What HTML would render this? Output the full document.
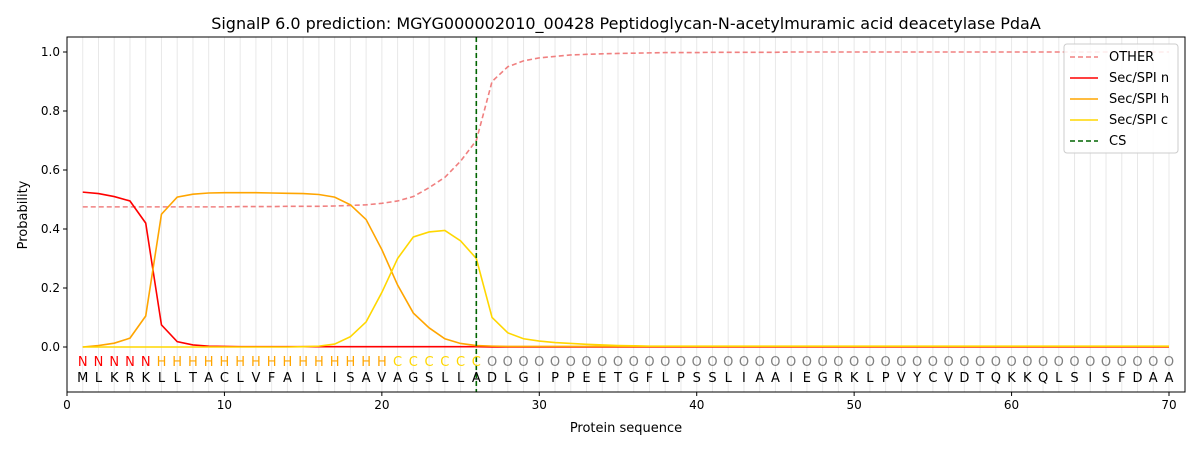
<!DOCTYPE html>
<html><head><meta charset="utf-8"><style>
body{margin:0;background:#fff;font-family:"DejaVu Sans","Liberation Sans",sans-serif;}
svg text{font-family:"DejaVu Sans","Liberation Sans",sans-serif;}
</style></head><body>
<svg id="chart" width="1200" height="450" xmlns="http://www.w3.org/2000/svg"></svg>
<script>
const seq = "MLKRKLLTACLVFAILISAVAGSLLADLGIPPEETGFLPSSLIAAIEGRKLPVYCVDTQKKQLSISFDAA".split("");
const labels = "NNNNNHHHHHHHHHHHHHHHCCCCCCOOOOOOOOOOOOOOOOOOOOOOOOOOOOOOOOOOOOOOOOOOOO".split("");
const otherVals = [0.475,0.475,0.475,0.475,0.475,0.475,0.475,0.475,0.475,0.475,0.476,0.476,0.476,0.477,0.477,0.477,0.478,0.48,0.482,0.487,0.495,0.51,0.54,0.575,0.63,0.70,0.90,0.95,0.97,0.98,0.985,0.99,0.992,0.994,0.995,0.996,0.997,0.998,0.998,0.998,0.999,0.999,0.999,0.999,0.999,1,1,1,1,1,1,1,1,1,1,1,1,1,1,1,1,1,1,1,1,1,1,1,1,1];
const nVals = [0.525,0.52,0.51,0.495,0.42,0.075,0.018,0.007,0.003,0.002,0.001,0.001,0.001,0.001,0.001,0.001,0.001,0.001,0.001,0.001,0.001,0.001,0.001,0.001,0.001,0.001,0,0,0,0,0,0,0,0,0,0,0,0,0,0,0,0,0,0,0,0,0,0,0,0,0,0,0,0,0,0,0,0,0,0,0,0,0,0,0,0,0,0,0,0];
const hVals = [0.0,0.005,0.013,0.03,0.105,0.45,0.508,0.518,0.522,0.523,0.523,0.523,0.522,0.521,0.52,0.517,0.508,0.482,0.432,0.33,0.21,0.115,0.065,0.028,0.012,0.005,0.003,0.002,0.002,0.002,0.002,0.002,0.002,0.002,0.002,0.002,0.002,0.002,0.002,0.002,0.002,0.002,0.002,0.002,0.002,0.002,0.002,0.002,0.002,0.002,0.002,0.002,0.002,0.002,0.002,0.002,0.002,0.002,0.002,0.002,0.002,0.002,0.002,0.002,0.002,0.002,0.002,0.002,0.002,0.002];
const cVals = [0,0,0,0,0,0,0,0,0,0,0,0,0,0,0.001,0.003,0.01,0.035,0.085,0.185,0.30,0.373,0.39,0.395,0.36,0.30,0.10,0.048,0.028,0.02,0.015,0.012,0.009,0.007,0.005,0.004,0.003,0.003,0.003,0.003,0.003,0.003,0.003,0.003,0.003,0.003,0.003,0.003,0.003,0.003,0.003,0.003,0.003,0.003,0.003,0.003,0.003,0.003,0.003,0.003,0.003,0.003,0.003,0.003,0.003,0.003,0.003,0.003,0.003,0.003];
const xTicks = [0,10,20,30,40,50,60,70];
const yTicks = [0.0,0.2,0.4,0.6,0.8,1.0];
const csPos = 26;

const svg = document.getElementById('chart');
const NS = "http://www.w3.org/2000/svg";
const L=67,R=1185,T=37,B=392;
const X = v => 67 + v*(1169-67)/70;
const Y = v => 347 - v*295;
function mk(tag, attrs, parent){const e=document.createElementNS(NS,tag);for(const k in attrs)e.setAttribute(k,attrs[k]);(parent||svg).appendChild(e);return e;}

// title
let t=mk('text',{x:626,y:29,'text-anchor':'middle','font-size':16,fill:'#000'});
t.textContent="SignalP 6.0 prediction: MGYG000002010_00428 Peptidoglycan-N-acetylmuramic acid deacetylase PdaA";



// vertical grid lines per residue
seq.forEach((s,i)=>{
  const g=mk('line',{x1:X(i+1),x2:X(i+1),y1:T,y2:B,stroke:'#e8e8e8','stroke-width':1});
  
  
});

// series
function series(vals,color,dash,name){
  const p=mk('polyline',{points:vals.map((v,i)=>X(i+1)+','+Y(v)).join(' '),fill:'none',stroke:color,'stroke-width':1.6});
  if(dash)p.setAttribute('stroke-dasharray',dash);
  
  
}
series(otherVals,'#f08080','5,3','other-line');
series(nVals,'#ff0000',null,'sec-spi-n-line');
series(hVals,'#ffa500',null,'sec-spi-h-line');
series(cVals,'#ffd700',null,'sec-spi-c-line');

// CS line
let cs=mk('line',{x1:X(csPos),x2:X(csPos),y1:T,y2:B,stroke:'#006400','stroke-width':1.6,'stroke-dasharray':'5,3'});



// residue labels
const lc={N:'#ff0000',H:'#ffa500',C:'#ffd700',O:'#808080'};
seq.forEach((s,i)=>{
  const a=mk('text',{x:X(i+1),y:366,'text-anchor':'middle','font-size':13,fill:lc[labels[i]]});
  a.textContent=labels[i];
  
  
  const b=mk('text',{x:X(i+1),y:382,'text-anchor':'middle','font-size':13,fill:'#000'});
  b.textContent=s;
  
  
});

// axes frame
let fr=mk('rect',{x:L,y:T,width:R-L,height:B-T,fill:'none',stroke:'#000','stroke-width':1});



xTicks.forEach(v=>{
  mk('line',{x1:X(v),x2:X(v),y1:B,y2:B+4,stroke:'#000'});
  const e=mk('text',{x:X(v),y:B+17,'text-anchor':'middle','font-size':12});
  e.textContent=v;
  
  
});
yTicks.forEach(v=>{
  mk('line',{x1:L-4,x2:L,y1:Y(v),y2:Y(v),stroke:'#000'});
  const e=mk('text',{x:L-7,y:Y(v)+4,'text-anchor':'end','font-size':12});
  e.textContent=v.toFixed(1);
  
  
});
let xt=mk('text',{x:626,y:432,'text-anchor':'middle','font-size':13});
xt.textContent='Protein sequence';


let yt=mk('text',{x:27,y:215,'text-anchor':'middle','font-size':13,transform:'rotate(-90 27 215)'});
yt.textContent='Probability';



// legend
const lg=mk('g',{});


mk('rect',{x:1064,y:44,width:114,height:109,rx:3,fill:'#fff','fill-opacity':0.85,stroke:'#ccc'},lg);
const items=[['OTHER','#f08080','5,3'],['Sec/SPI n','#ff0000',null],['Sec/SPI h','#ffa500',null],['Sec/SPI c','#ffd700',null],['CS','#006400','5,3']];
items.forEach((it,i)=>{
  const y=57+i*21;
  const ln=mk('line',{x1:1070,x2:1098,y1:y,y2:y,stroke:it[1],'stroke-width':1.6},lg);
  if(it[2])ln.setAttribute('stroke-dasharray',it[2]);
  const tx=mk('text',{x:1109,y:y+4,'font-size':13},lg);
  tx.textContent=it[0];
  
  
});
</script>
</body></html>
